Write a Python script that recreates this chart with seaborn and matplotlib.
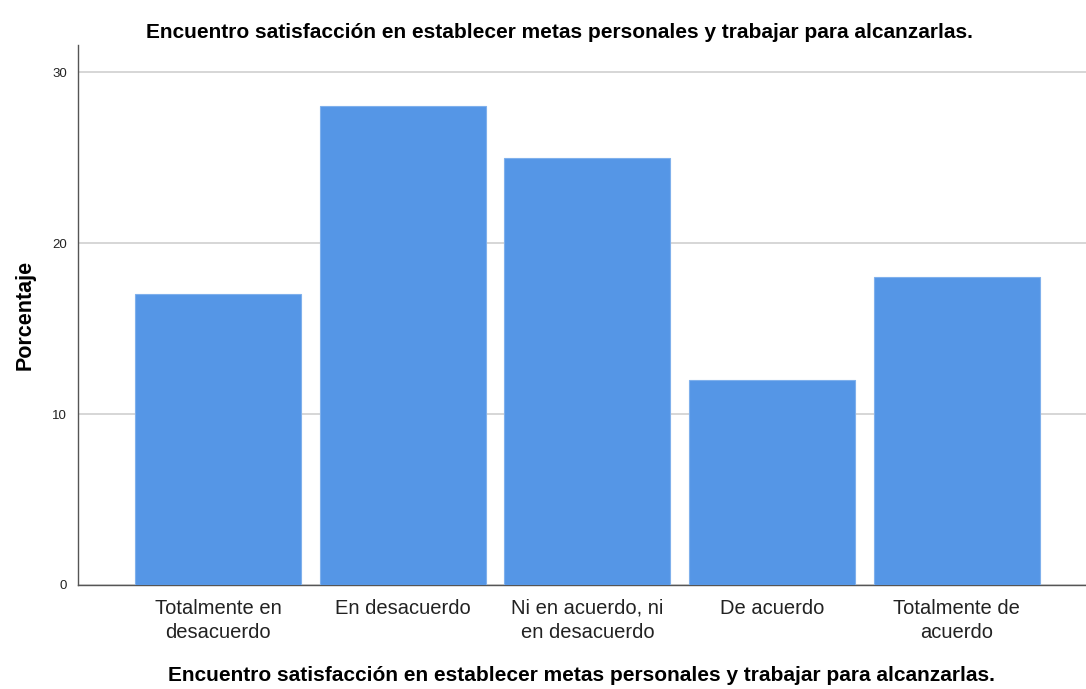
import numpy as np
import pandas as pd
import matplotlib.pyplot as plt
import seaborn as sns

categorias = ["Totalmente en\ndesacuerdo", "En desacuerdo", "Ni en acuerdo, ni\nen desacuerdo",
              "De acuerdo", "Totalmente de\nacuerdo"]
porcentajes = [17, 28, 25, 12, 18]
yticks = [0, 10, 20, 30]
titulo = "Encuentro satisfacción en establecer metas personales y trabajar para alcanzarlas."

df = pd.DataFrame({"categoria": categorias, "porcentaje": porcentajes})

sns.set_style("white")
plt.rcParams['font.family'] = ['Liberation Sans', 'DejaVu Sans']
plt.rcParams['text.color'] = "black"
plt.rcParams['axes.labelcolor'] = "black"
plt.rcParams['xtick.color'] = "black"
plt.rcParams['ytick.color'] = "black"

fig = plt.figure(figsize=(10.86, 6.89), dpi=100)
ax = fig.add_axes([0.0718, 0.151, 0.928, 0.784])

sns.barplot(x="categoria", y="porcentaje", data=df, color="#5596E6", width=0.9,
            edgecolor="#7FB0EC", linewidth=0.8, saturation=1, ax=ax, zorder=3)

ax.set_xlim(-0.76, 4.70)
ax.set_ylim(0, 31.6)
ax.set_yticks(yticks)
ax.yaxis.grid(True, color="#D0D0D0", linewidth=1.2, zorder=0)
ax.set_axisbelow(True)

for s in ["top", "right"]:
    ax.spines[s].set_visible(False)
for s in ["left", "bottom"]:
    ax.spines[s].set_color("#555555")
    ax.spines[s].set_linewidth(1.0)

ax.tick_params(axis="y", labelsize=9.5, length=4, color="#888888", labelcolor="#222222", pad=4)
ax.tick_params(axis="x", labelsize=14.5, length=0, pad=10, labelcolor="#222222")
for lab in ax.get_xticklabels():
    lab.set_linespacing(1.35)

ax.set_ylabel("Porcentaje", fontsize=15.5, fontweight="bold", labelpad=12)
ax.set_xlabel(titulo, fontsize=15, fontweight="bold")
ax.xaxis.set_label_coords(0.5, -0.1685)
ax.xaxis.label.set_verticalalignment("center")
fig.suptitle(titulo, fontsize=15, fontweight="bold", y=0.966, x=0.515)

fig.savefig("out.png", dpi=100)
